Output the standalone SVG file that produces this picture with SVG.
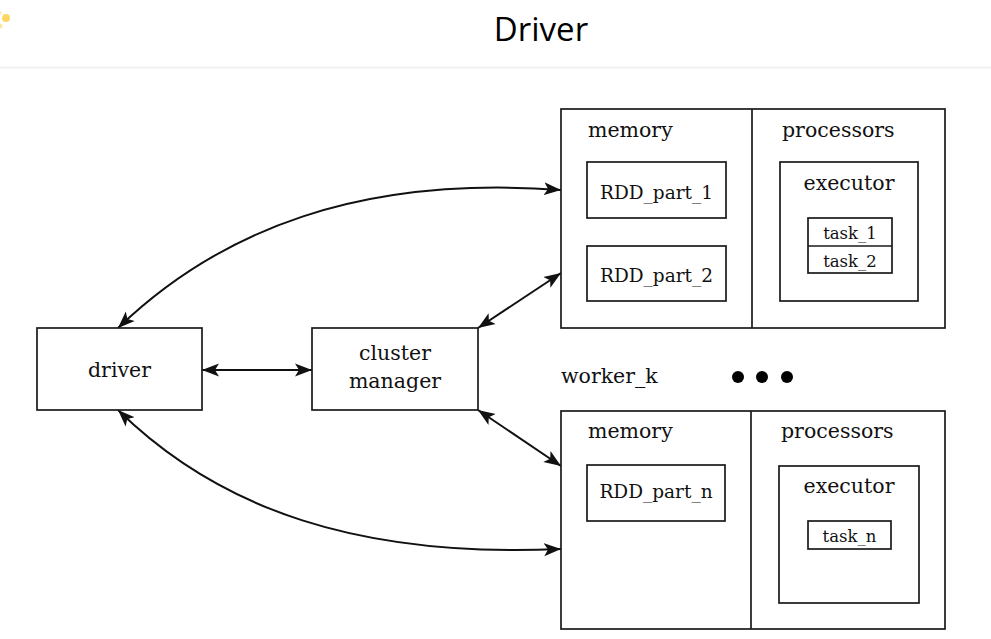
<svg xmlns="http://www.w3.org/2000/svg" width="991" height="639" viewBox="0 0 991 639">
  <style>
    .box { fill: #ffffff; stroke: #1a1a1a; stroke-width: 1.7; }
    .div { stroke: #1a1a1a; stroke-width: 1.7; fill: none; }
    .lbl { font-family: "DejaVu Serif", "Liberation Serif", serif; font-size: 20.5px; fill: #111111; }
    .rdd { font-family: "DejaVu Serif", "Liberation Serif", serif; font-size: 18.5px; fill: #111111; }
    .task { font-family: "DejaVu Serif", "Liberation Serif", serif; font-size: 16.5px; fill: #111111; }
    .mid { text-anchor: middle; }
    .conn { fill: none; stroke: #111111; stroke-width: 2; marker-start: url(#ah); marker-end: url(#ah); }
  </style>
  <defs>
    <marker id="ah" markerUnits="userSpaceOnUse" markerWidth="18" markerHeight="14" refX="17" refY="7" orient="auto-start-reverse">
      <path d="M0,0.5 L17,7 L0,13.5 L4,7 Z" fill="#111111"/>
    </marker>
  </defs>
  <rect x="0" y="0" width="991" height="639" fill="#ffffff"/>

  <g id="header">
    <circle cx="6" cy="18" r="4" fill="#fdd663"/>
    <circle cx="0" cy="26" r="2.5" fill="#fde7a0"/>
    <circle cx="0" cy="13" r="2" fill="#feefc4"/>
    <text x="541" y="41" text-anchor="middle" font-family="'Open Sans', 'Noto Sans', sans-serif" font-size="33" fill="#000000">Driver</text>
    <rect x="0" y="66.5" width="991" height="2" fill="#f2f2f2"/>
  </g>

  <g id="connectors">
    <path class="conn" d="M118,328 C220,230 360,175 561,190"/>
    <path class="conn" d="M118,410 C220,510 360,558 561,549"/>
    <path class="conn" d="M202,370 L312,370"/>
    <path class="conn" d="M478,328 L561,273"/>
    <path class="conn" d="M478,410 L561,466"/>
  </g>

  <g id="driver">
    <rect class="box" x="37" y="328" width="165" height="82"/>
    <text class="lbl mid" x="119.5" y="377">driver</text>
  </g>

  <g id="cluster-manager">
    <rect class="box" x="312" y="328" width="166" height="82"/>
    <text class="lbl mid" x="395" y="360">cluster</text>
    <text class="lbl mid" x="395" y="388">manager</text>
  </g>

  <g id="worker-1">
    <rect class="box" x="561" y="109" width="384" height="219"/>
    <line class="div" x1="752" y1="109" x2="752" y2="328"/>
    <text class="lbl" x="588" y="137">memory</text>
    <text class="lbl" x="782" y="137">processors</text>
    <g id="rdd-part-1">
      <rect class="box" x="587" y="162" width="139" height="56"/>
      <text class="rdd mid" x="656.5" y="199">RDD_part_1</text>
    </g>
    <g id="rdd-part-2">
      <rect class="box" x="587" y="246" width="139" height="55"/>
      <text class="rdd mid" x="656.5" y="282">RDD_part_2</text>
    </g>
    <g id="executor-1">
      <rect class="box" x="780" y="162" width="138" height="139"/>
      <text class="lbl mid" x="849" y="190">executor</text>
      <rect class="box" x="808" y="218" width="84" height="55"/>
      <line class="div" x1="808" y1="246" x2="892" y2="246"/>
      <text class="task mid" x="850" y="239">task_1</text>
      <text class="task mid" x="850" y="267">task_2</text>
    </g>
  </g>

  <g id="worker-k-label">
    <text class="lbl" x="561" y="383">worker_k</text>
    <circle cx="738" cy="377" r="6" fill="#000000"/>
    <circle cx="762" cy="377" r="6" fill="#000000"/>
    <circle cx="787" cy="377" r="6" fill="#000000"/>
  </g>

  <g id="worker-k">
    <rect class="box" x="561" y="411" width="384" height="218"/>
    <line class="div" x1="751" y1="411" x2="751" y2="629"/>
    <text class="lbl" x="588" y="438">memory</text>
    <text class="lbl" x="781" y="438">processors</text>
    <g id="rdd-part-n">
      <rect class="box" x="587" y="465" width="138" height="56"/>
      <text class="rdd mid" x="656" y="498">RDD_part_n</text>
    </g>
    <g id="executor-k">
      <rect class="box" x="779" y="466" width="140" height="137"/>
      <text class="lbl mid" x="849" y="493">executor</text>
      <rect class="box" x="808" y="521" width="83" height="28"/>
      <text class="task mid" x="849.5" y="542">task_n</text>
    </g>
  </g>
</svg>
